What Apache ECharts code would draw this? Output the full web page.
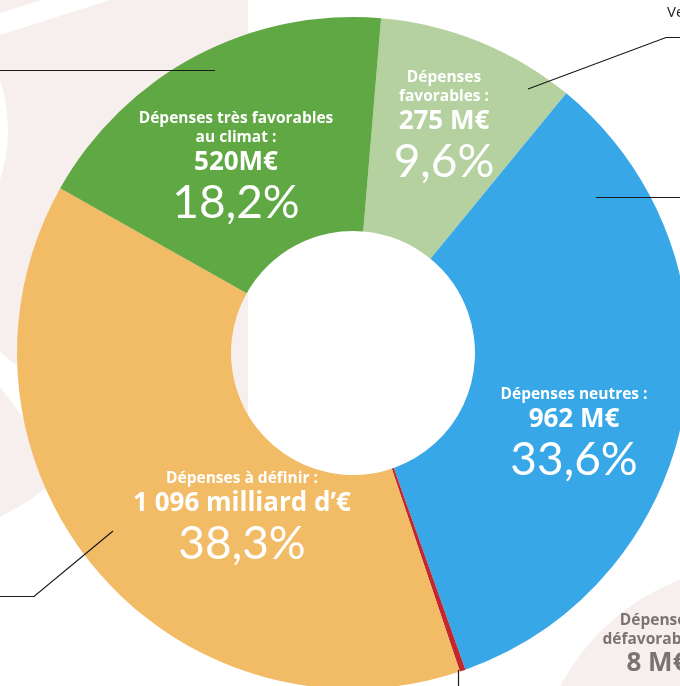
<!DOCTYPE html>
<html>
<head>
<meta charset="utf-8">
<style>
  html, body { margin: 0; padding: 0; background: #fff; }
  #main { width: 680px; height: 686px; }
</style>
<script src="https://cdn.jsdelivr.net/npm/echarts@6/dist/echarts.min.js"></script>
</head>
<body>
<div id="main"></div>
<script>
  // slices, clockwise from the top
  const names = ['Dépenses favorables', 'Dépenses neutres', 'Dépenses défavorables', 'Dépenses à définir', 'Dépenses très favorables au climat'];
  const values = [275, 962, 8, 1096, 520];
  const titleLines = [['Dépenses', 'favorables :'], ['Dépenses neutres :'], ['Dépenses', 'défavorables :'], ['Dépenses à définir :'], ['Dépenses très favorables', 'au climat :']];
  const amountLabels = ['275 M€', '962 M€', '8 M€', '1 096 milliard d’€', '520M€'];
  const colors = ['#b5d19f', '#38a7e7', '#c1272d', '#f2bb66', '#5fa843'];
  const labelPos = [[444, 128.5], [574, 436], [657, 671], [242, 520], [236, 169.5]];

  const total = values.reduce((a, b) => a + b, 0);
  const pink = '#f7efee';
  const lineCol = '#1a1a1a';

  let chart = echarts.init(document.getElementById('main'));

  let seriesData = values.map((v, i) => ({
    name: names[i],
    value: v,
    itemStyle: { color: colors[i] }
  }));

  let option = {
    backgroundColor: '#fff',
    animation: false,
    graphic: [
      // décor rose en fond
      { type: 'polygon', z: 0, shape: { points: [[0, 0], [248, 0], [248, 420], [45, 489], [22, 505], [0, 517]] }, style: { fill: pink } },
      { type: 'polygon', z: 0, shape: { points: [[0, 13], [42, 0], [110, 0], [0, 35]] }, style: { fill: '#fff' } },
      { type: 'polygon', z: 0, shape: { points: [[0, 352], [25, 372], [25, 420], [0, 387]] }, style: { fill: '#fff' } },
      { type: 'circle', z: 0, shape: { cx: -150, cy: 130, r: 158 }, style: { fill: '#fff' } },
      { type: 'circle', z: 0, shape: { cx: 760, cy: 790, r: 225 }, style: { fill: pink } },
      // traits de renvoi
      { type: 'polyline', z: 10, shape: { points: [[0, 70.5], [215, 70.5]] }, style: { stroke: lineCol, lineWidth: 1.2 } },
      { type: 'polyline', z: 10, shape: { points: [[528, 89], [666, 37.5], [690, 37.5]] }, style: { stroke: lineCol, lineWidth: 1.2 } },
      { type: 'polyline', z: 10, shape: { points: [[596, 197.5], [690, 197.5]] }, style: { stroke: lineCol, lineWidth: 1.2 } },
      { type: 'polyline', z: 10, shape: { points: [[113, 531], [34, 596.5], [-10, 596.5]] }, style: { stroke: lineCol, lineWidth: 1.2 } },
      { type: 'polyline', z: 10, shape: { points: [[458.5, 670], [458.5, 690]] }, style: { stroke: lineCol, lineWidth: 1.2 } },
      { type: 'text', z: 10, x: 667, y: 13, style: { text: 'Ve', fill: '#222', font: '15px "Open Sans"', textVerticalAlign: 'middle' } }
    ],
    series: [{
      type: 'pie',
      center: [353, 353],
      radius: [122, 336],
      startAngle: 85.2,
      clockwise: true,
      avoidLabelOverlap: false,
      itemStyle: { borderWidth: 0 },
      emphasis: { disabled: true },
      label: {
        show: true,
        position: 'inside',
        align: 'center',
        verticalAlign: 'middle',
        formatter: function (p) {
          let s = p.dataIndex === 2 ? 'g' : 'w';
          let pct = (p.value / total * 100).toFixed(1).replace('.', ',') + '%';
          let out = titleLines[p.dataIndex].map(t => '{t' + s + '|' + t + '}');
          out.push('{v' + s + '|' + amountLabels[p.dataIndex] + '}');
          out.push('{p' + s + '|' + pct + '}');
          return out.join('\n');
        },
        rich: {
          tw: { color: '#fff', fontFamily: 'Open Sans', fontWeight: 'bold', fontSize: 15.5, lineHeight: 19, align: 'center' },
          vw: { color: '#fff', fontFamily: 'Open Sans', fontWeight: 'bold', fontSize: 26, lineHeight: 30, align: 'center' },
          pw: { color: '#fff', fontFamily: 'Lato', fontWeight: 'normal', fontSize: 46, lineHeight: 52, align: 'center' },
          tg: { color: '#7b7372', fontFamily: 'Open Sans', fontWeight: 'bold', fontSize: 15.5, lineHeight: 19, align: 'center' },
          vg: { color: '#7b7372', fontFamily: 'Open Sans', fontWeight: 'bold', fontSize: 26, lineHeight: 30, align: 'center' },
          pg: { color: '#7b7372', fontFamily: 'Lato', fontWeight: 'normal', fontSize: 46, lineHeight: 52, align: 'center' }
        }
      },
      labelLine: { show: false },
      labelLayout: function (params) {
        let pos = labelPos[params.dataIndex];
        return { x: pos[0], y: pos[1], align: 'center', verticalAlign: 'middle' };
      },
      data: seriesData
    }]
  };

  chart.setOption(option);
  window.addEventListener('resize', function () {
    chart.resize();
  }, false);
</script>
</body>
</html>
